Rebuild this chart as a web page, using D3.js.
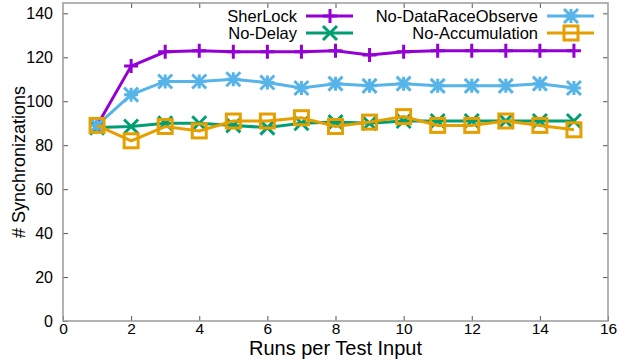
<!DOCTYPE html>
<html>
<head>
<meta charset="utf-8">
<script src="https://cdn.jsdelivr.net/npm/d3@7"></script>
<style>
  body { margin: 0; background: #fff; }
  text { font-family: "Liberation Sans", Arial, sans-serif; fill: #000; }
</style>
</head>
<body>
<div id="chart"></div>
<script>
// runs per test input
const runs = [1, 2, 3, 4, 5, 6, 7, 8, 9, 10, 11, 12, 13, 14, 15];

const sherlock      = [89, 116, 122.5, 123, 122.5, 122.5, 122.5, 123, 121, 122.5, 123, 123, 123, 123, 123];
const noDelay       = [88, 88.5, 90, 90, 89, 88, 90, 90.5, 90, 91, 91, 91, 91, 91, 91];
const noDataRaceObs = [89, 103, 109, 109, 110, 108.5, 106, 108, 107, 108, 107, 107, 107, 108, 106];
const noAccum       = [89, 82, 88.5, 86.5, 91, 91, 92.5, 88.5, 90.5, 93, 89, 89, 91, 89, 87];

const xTicks = [0, 2, 4, 6, 8, 10, 12, 14, 16];
const yTicks = [0, 20, 40, 60, 80, 100, 120, 140];

const seriesNames = ['SherLock', 'No-Delay', 'No-DataRaceObserve', 'No-Accumulation'];
const seriesColors = ['#9400d3', '#009e73', '#56b4e9', '#e69f00'];
const seriesMarks = ['plus', 'cross', 'star', 'square'];

const width = 618;
const height = 362;
const margin = { top: 3, right: 10, bottom: 41, left: 63 };

const svg = d3.select('#chart').append('svg')
  .attr('width', width)
  .attr('height', height);

const chartWidth = width - margin.left - margin.right;
const chartHeight = height - margin.top - margin.bottom;

const x = d3.scaleLinear().domain([0, 16]).range([0, chartWidth]);
const y = d3.scaleLinear().domain([0, 144.7]).range([chartHeight, 0]);

const g = svg.append('g')
  .attr('transform', `translate(${margin.left},${margin.top})`);

const frameColor = '#9a9a9a';

// axes with inward ticks, mirrored like gnuplot
g.append('g')
  .attr('transform', `translate(0,${chartHeight})`)
  .call(d3.axisBottom(x).tickValues(xTicks).tickSizeInner(-5).tickSizeOuter(0).tickPadding(2))
  .call(a => a.select('.domain').remove())
  .call(a => a.selectAll('line').attr('stroke', '#555'))
  .call(a => a.selectAll('text').attr('font-size', 15.5));

g.append('g')
  .call(d3.axisTop(x).tickValues(xTicks.slice(1, -1)).tickSizeInner(-5).tickSizeOuter(0).tickFormat(''))
  .call(a => a.select('.domain').remove())
  .call(a => a.selectAll('line').attr('stroke', '#555'));

g.append('g')
  .call(d3.axisLeft(y).tickValues(yTicks).tickSizeInner(-5).tickSizeOuter(0).tickPadding(10))
  .call(a => a.select('.domain').remove())
  .call(a => a.selectAll('line').attr('stroke', '#555'))
  .call(a => a.selectAll('text').attr('font-size', 16));

g.append('g')
  .attr('transform', `translate(${chartWidth},0)`)
  .call(d3.axisRight(y).tickValues(yTicks.slice(1)).tickSizeInner(-5).tickSizeOuter(0).tickFormat(''))
  .call(a => a.select('.domain').remove())
  .call(a => a.selectAll('line').attr('stroke', '#555'));

g.append('rect')
  .attr('width', chartWidth)
  .attr('height', chartHeight)
  .attr('fill', 'none')
  .attr('stroke', frameColor)
  .attr('stroke-width', 1.5);

// axis titles
svg.append('text')
  .attr('transform', `translate(25,${margin.top + chartHeight / 2}) rotate(-90)`)
  .attr('text-anchor', 'middle')
  .attr('font-size', 18)
  .text('# Synchronizations');

svg.append('text')
  .attr('x', margin.left + chartWidth / 2)
  .attr('y', 355)
  .attr('text-anchor', 'middle')
  .attr('font-size', 20)
  .text('Runs per Test Input');

function drawMark(sel, type, color) {
  const s = 7;
  if (type === 'plus') {
    sel.append('path').attr('d', `M${-s},0H${s}M0,${-s}V${s}`);
  } else if (type === 'cross') {
    sel.append('path').attr('d', `M${-s},${-s}L${s},${s}M${-s},${s}L${s},${-s}`);
  } else if (type === 'star') {
    sel.append('path').attr('d', `M${-s},0H${s}M0,${-s}V${s}M${-s},${-s}L${s},${s}M${-s},${s}L${s},${-s}`);
  } else {
    sel.append('rect').attr('x', -s).attr('y', -s).attr('width', 2 * s).attr('height', 2 * s);
  }
  sel.attr('stroke', color).attr('stroke-width', 3).attr('fill', 'none');
}

const allSeries = [sherlock, noDelay, noDataRaceObs, noAccum];

const line = d3.line()
  .x((d, i) => x(runs[i]))
  .y(d => y(d));

allSeries.forEach((vals, k) => {
  g.append('path')
    .datum(vals)
    .attr('fill', 'none')
    .attr('stroke', seriesColors[k])
    .attr('stroke-width', 3)
    .attr('d', line);

  vals.forEach((v, i) => {
    const m = g.append('g').attr('transform', `translate(${x(runs[i])},${y(v)})`);
    drawMark(m, seriesMarks[k], seriesColors[k]);
  });
});

// legend: two columns, two rows
const legendCols = [297, 538];
const legendRows = [16, 33];
seriesNames.forEach((name, k) => {
  const col = Math.floor(k / 2);
  const row = k % 2;
  const lg = svg.append('g')
    .attr('transform', `translate(${legendCols[col]},${legendRows[row]})`);
  lg.append('text')
    .attr('text-anchor', 'end')
    .attr('dy', '0.35em')
    .attr('font-size', 16.5)
    .text(name);
  lg.append('line')
    .attr('x1', 9).attr('x2', 56)
    .attr('stroke', seriesColors[k])
    .attr('stroke-width', 3);
  const m = lg.append('g').attr('transform', 'translate(33,0)');
  drawMark(m, seriesMarks[k], seriesColors[k]);
});
</script>
</body>
</html>
